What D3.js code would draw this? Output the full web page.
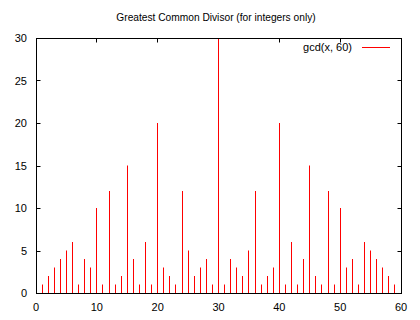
<!DOCTYPE html>
<html><head><meta charset="utf-8">
<script src="https://cdn.jsdelivr.net/npm/d3@7"></script>
<style>body{margin:0;background:#fff}text{font-family:"Liberation Sans",Arial,sans-serif}</style>
</head><body>
<svg id="c" width="420" height="320"></svg>
<script>
const xs = d3.range(1, 60);
const gcdValues = [1,2,3,4,5,6,1,4,3,10,1,12,1,2,15,4,1,6,1,20,3,2,1,12,5,2,3,4,1,30,
                   1,4,3,2,5,12,1,2,3,20,1,6,1,4,15,2,1,12,1,10,3,4,1,6,5,4,3,2,1];
const xTicks = [0,10,20,30,40,50,60];
const yTicks = [0,5,10,15,20,25,30];
const title = "Greatest Common Divisor (for integers only)";
const legendLabel = "gcd(x, 60)";

const svg = d3.select("#c");
const L = 36, R = 401, T = 38, B = 293;
const x = d3.scaleLinear().domain([0,60]).range([L,R]);
const y = d3.scaleLinear().domain([0,30]).range([B,T]);
const px = v => Math.floor(x(v)) + 0.5;
const py = v => Math.round(y(v)) + 0.5;

const g = svg.append("g").attr("stroke", "#000").attr("stroke-width", 1);
xTicks.forEach(t => {
  g.append("line").attr("x1", px(t)).attr("x2", px(t)).attr("y1", B+0.5).attr("y2", B-3.5);
  g.append("line").attr("x1", px(t)).attr("x2", px(t)).attr("y1", T+0.5).attr("y2", T+4.5);
});
yTicks.forEach(t => {
  g.append("line").attr("x1", L+0.5).attr("x2", L+4.5).attr("y1", py(t)).attr("y2", py(t));
  g.append("line").attr("x1", R+0.5).attr("x2", R-3.5).attr("y1", py(t)).attr("y2", py(t));
});

// impulses
svg.append("g").selectAll("line").data(xs).join("line")
  .attr("x1", d=>px(d)).attr("x2", d=>px(d))
  .attr("y1", y(0)).attr("y2", (d,i)=>y(Math.min(gcdValues[i],30)))
  .attr("stroke", "#ff0000").attr("stroke-width", 1);

// border
svg.append("rect").attr("x", L+0.5).attr("y", T+0.5).attr("width", R-L).attr("height", B-T)
  .attr("fill", "none").attr("stroke", "#000").attr("stroke-width", 1);

svg.selectAll(".xl").data(xTicks).join("text").attr("class","xl")
  .attr("x", d=>x(d)).attr("y", 311).attr("text-anchor","middle")
  .attr("font-size", 11).text(d=>d);
svg.selectAll(".yl").data(yTicks).join("text").attr("class","yl")
  .attr("x", 27).attr("y", d=>y(d)+4).attr("text-anchor","end")
  .attr("font-size", 11).text(d=>d);

svg.append("text").attr("x", 216).attr("y", 21).attr("text-anchor","middle")
  .attr("font-size", 10.2).text(title);

svg.append("text").attr("x", 352).attr("y", 51).attr("text-anchor","end")
  .attr("font-size", 11).text(legendLabel);
svg.append("line").attr("x1", 362).attr("x2", 390).attr("y1", 47.5).attr("y2", 47.5)
  .attr("stroke", "#ff0000").attr("stroke-width", 1);
</script>
</body></html>
